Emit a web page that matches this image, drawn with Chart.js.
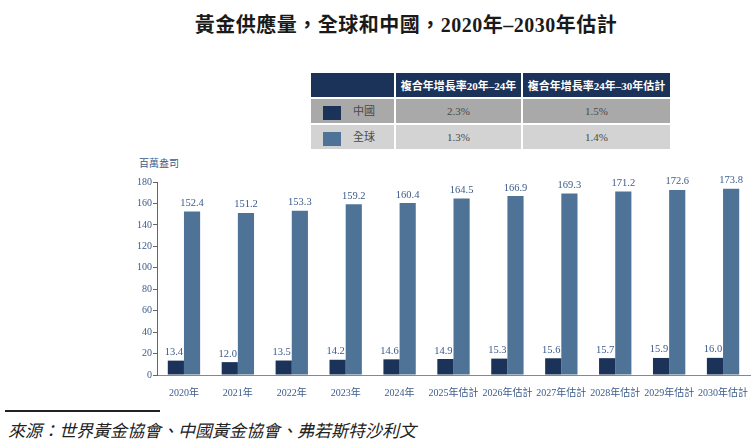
<!DOCTYPE html>
<html><head><meta charset="utf-8">
<script src="https://cdn.jsdelivr.net/npm/chart.js@4/dist/chart.umd.min.js"></script>
<style>
html,body{margin:0;padding:0;background:#fff;width:756px;height:448px;overflow:hidden;position:relative;font-family:"Liberation Serif","Noto Sans CJK TC",serif;}
#title{position:absolute;left:0;top:9px;width:812px;text-align:center;font-size:20px;font-weight:bold;color:#1a1a1a;letter-spacing:0.5px;}
#tbl{position:absolute;left:309px;top:71px;border-collapse:separate;border-spacing:2px;font-size:11px;}
#tbl td{padding:0;text-align:center;height:24px;}
#tbl .h{background:#1b3259;color:#fff;font-weight:bold;}
#tbl .r1{background:#a9a9a9;color:#4a4a4a;}
#tbl .r2{background:#d3d3d3;color:#4a4a4a;}
.sw{display:inline-block;width:18px;height:14px;vertical-align:middle;margin-right:12px;}
#unit{position:absolute;left:139px;top:155px;font-size:10px;color:#3b5b8a;}
#wrap{position:absolute;left:0;top:150px;width:756px;height:250px;}
#line{position:absolute;left:5px;top:410px;width:155px;height:2px;background:#222;}
#src{position:absolute;left:8px;top:417px;font-size:17px;font-style:italic;color:#222;}
</style></head>
<body>
<div id="title">黃金供應量，全球和中國，2020年–2030年估計</div>
<table id="tbl">
<tr><td class="h" style="width:83px"></td><td class="h" style="width:125px">複合年增長率20年–24年</td><td class="h" style="width:147px">複合年增長率24年–30年估計</td></tr>
<tr><td class="r1" style="text-align:left;padding-left:12px;"><span class="sw" style="background:#1b3259"></span>中國</td><td class="r1" id="c1"></td><td class="r1" id="c2"></td></tr>
<tr><td class="r2" style="text-align:left;padding-left:12px;"><span class="sw" style="background:#4f7396"></span>全球</td><td class="r2" id="g1"></td><td class="r2" id="g2"></td></tr>
</table>
<div id="unit">百萬盎司</div>
<div id="wrap"><canvas id="c"></canvas></div>
<div id="line"></div>
<div id="src">來源：世界黃金協會、中國黃金協會、弗若斯特沙利文</div>
<script>
const categories = ["2020年","2021年","2022年","2023年","2024年","2025年估計","2026年估計","2027年估計","2028年估計","2029年估計","2030年估計"];
const chinaValues = [13.4,12.0,13.5,14.2,14.6,14.9,15.3,15.6,15.7,15.9,16.0];
const globalValues = [152.4,151.2,153.3,159.2,160.4,164.5,166.9,169.3,171.2,172.6,173.8];
const yTicks = [0,20,40,60,80,100,120,140,160,180];
const cagrChina = ["2.3%","1.5%"];
const cagrGlobal = ["1.3%","1.4%"];

document.getElementById('c1').textContent = cagrChina[0];
document.getElementById('c2').textContent = cagrChina[1];
document.getElementById('g1').textContent = cagrGlobal[0];
document.getElementById('g2').textContent = cagrGlobal[1];

const labelPlugin = {
  id:'vals',
  afterDatasetsDraw(chart){
    const ctx = chart.ctx;
    ctx.save();
    ctx.font = '10.5px "Liberation Serif", serif';
    ctx.fillStyle = '#3b5b8a';
    ctx.textAlign = 'center';
    ctx.textBaseline = 'bottom';
    chart.data.datasets.forEach((ds,i)=>{
      chart.getDatasetMeta(i).data.forEach((bar,j)=>{
        const dx = i === 0 ? -2 : 0;
        ctx.fillText(ds.data[j].toFixed(1), bar.x + dx, bar.y - 3);
      });
    });
    ctx.restore();
  }
};

new Chart(document.getElementById('c'), {
  type:'bar',
  data:{
    labels: categories,
    datasets:[
      {label:'中國', data: chinaValues, backgroundColor:'#1b3259', categoryPercentage:0.6, barPercentage:1.0},
      {label:'全球', data: globalValues, backgroundColor:'#4f7396', categoryPercentage:0.6, barPercentage:1.0}
    ]
  },
  options:{
    responsive:true, maintainAspectRatio:false, animation:false,
    layout:{padding:{top:32,right:6,left:0,bottom:0}},
    plugins:{legend:{display:false}, tooltip:{enabled:false}, title:{display:false}},
    scales:{
      x:{
        grid:{display:false},
        border:{display:true,color:'#888',width:1},
        ticks:{color:'#3b5b8a',font:{family:'"Liberation Serif","Noto Sans CJK TC",serif',size:10},padding:4,maxRotation:0,autoSkip:false},
        afterFit(s){ s.height = 25; }
      },
      y:{
        min:0,max:180,
        afterBuildTicks(s){ s.ticks = yTicks.map(v=>({value:v})); },
        grid:{display:true,drawOnChartArea:false,drawTicks:true,tickLength:4,color:'#666'},
        border:{display:true,color:'#666',width:1},
        ticks:{color:'#3b5b8a',font:{family:'"Liberation Serif",serif',size:10},padding:1},
        afterFit(s){ s.width = 157; }
      }
    }
  },
  plugins:[labelPlugin]
});
</script>
</body></html>
